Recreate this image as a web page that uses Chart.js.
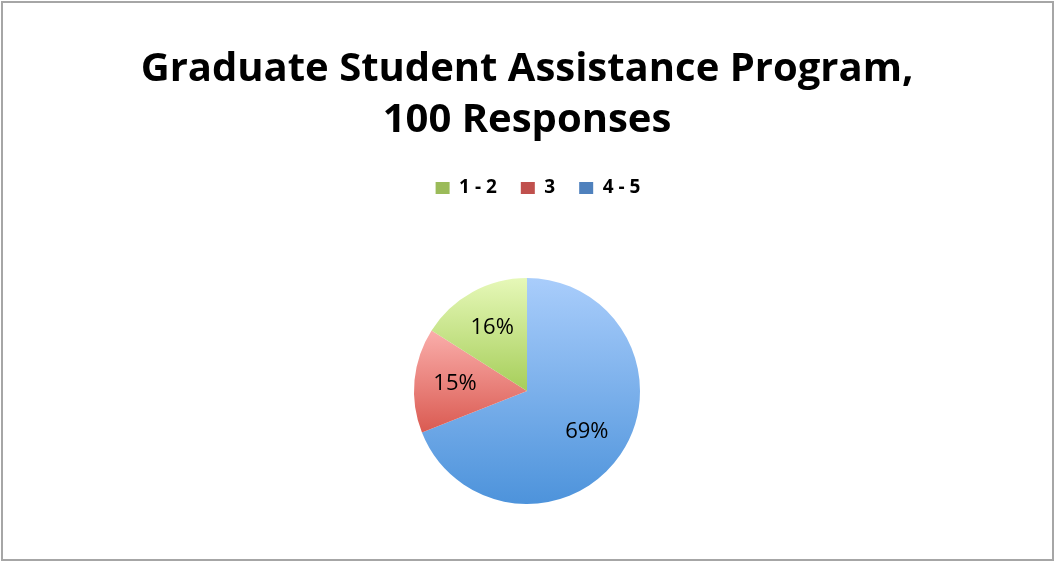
<!DOCTYPE html>
<html>
<head>
<meta charset="utf-8">
<script src="https://cdn.jsdelivr.net/npm/chart.js@4"></script>
<style>
  html, body { margin: 0; padding: 0; background: #fff; }
  #wrap { position: relative; width: 1054px; height: 561px; }
</style>
</head>
<body>
<div id="wrap"><canvas id="pieChart" width="1054" height="561"></canvas></div>
<script>
// Survey data, drawn clockwise from 12 o'clock
const labels = ['4 - 5', '3', '1 - 2'];
const responses = [69, 15, 16];
const titleLines = ['Graduate Student Assistance Program,', '100 Responses'];

// Legend swatches and slice gradients (top colour, bottom colour)
const swatches = ['#4f81bd', '#c0504d', '#9bbb59'];
const gradients = [
    ['#a9cdfb', '#4d93db'],
    ['#faaeab', '#da5a51'],
    ['#e6f8b8', '#a6ce5a']
];

// Vertical extent of a pie slice so each slice gets its own gradient
function sliceYRange(cy, r, a0, a1) {
    let ys = [cy, cy + r * Math.sin(a0), cy + r * Math.sin(a1)];
    [Math.PI / 2, -Math.PI / 2, 3 * Math.PI / 2].forEach(a => {
        if (a > a0 && a < a1) ys.push(cy + r * Math.sin(a));
    });
    return [Math.min(...ys), Math.max(...ys)];
}

function sliceFill(context) {
    const chart = context.chart;
    const area = chart.chartArea;
    const i = context.dataIndex;
    if (!area) return gradients[i][1];
    const total = responses.reduce((a, b) => a + b, 0);
    let start = -Math.PI / 2;
    for (let k = 0; k < i; k++) start += responses[k] / total * Math.PI * 2;
    const end = start + responses[i] / total * Math.PI * 2;
    const cy = (area.top + area.bottom) / 2;
    const r = Math.min(area.width, area.height) / 2;
    const [y0, y1] = sliceYRange(cy, r, start, end);
    const g = chart.ctx.createLinearGradient(0, y0, 0, y1);
    g.addColorStop(0, gradients[i][0]);
    g.addColorStop(1, gradients[i][1]);
    return g;
}

// White background and grey frame
const framePlugin = {
    id: 'frame',
    beforeDraw(chart) {
        const ctx = chart.ctx;
        ctx.save();
        ctx.fillStyle = '#ffffff';
        ctx.fillRect(0, 0, chart.width, chart.height);
        ctx.strokeStyle = '#a6a6a6';
        ctx.lineWidth = 2;
        ctx.strokeRect(2, 2, chart.width - 3, chart.height - 3);
        ctx.restore();
    }
};

// Extra room under the legend so the pie sits lower, legend nudged right
const legendGap = {
    id: 'legendGap',
    beforeInit(chart) {
        const fit = chart.legend.fit;
        chart.legend.fit = function() {
            fit.bind(chart.legend)();
            this.height += 70.5;
        };
    },
    afterLayout(chart) {
        chart.legend.left += 11;
        chart.legend.right += 11;
    }
};

// Percent labels inside each slice
const sliceLabels = {
    id: 'sliceLabels',
    afterDatasetsDraw(chart) {
        const ctx = chart.ctx;
        const meta = chart.getDatasetMeta(0);
        const total = responses.reduce((a, b) => a + b, 0);
        ctx.save();
        ctx.font = '22px "Open Sans"';
        ctx.fillStyle = '#000';
        ctx.textAlign = 'center';
        ctx.textBaseline = 'middle';
        meta.data.forEach((arc, i) => {
            const p = arc.getProps(['x', 'y', 'startAngle', 'endAngle', 'outerRadius'], true);
            const mid = (p.startAngle + p.endAngle) / 2;
            const d = p.outerRadius * 0.64;
            const pct = Math.round(responses[i] / total * 100) + '%';
            ctx.fillText(pct, p.x + Math.cos(mid) * d, p.y + Math.sin(mid) * d);
        });
        ctx.restore();
    }
};

new Chart(document.getElementById('pieChart'), {
    type: 'pie',
    data: {
        labels: labels,
        datasets: [{
            data: responses,
            backgroundColor: sliceFill,
            borderWidth: 0
        }]
    },
    options: {
        responsive: false,
        animation: false,
        layout: { padding: { bottom: 57 } },
        plugins: {
            title: {
                display: true,
                text: titleLines,
                color: '#000',
                font: { family: 'Open Sans', size: 40, weight: 'bold', lineHeight: 51 / 40 },
                padding: { top: 44, bottom: 8.5 }
            },
            legend: {
                position: 'top',
                reverse: true,
                labels: {
                    color: '#000',
                    boxWidth: 14,
                    boxHeight: 12,
                    padding: 24,
                    font: { family: 'Open Sans', size: 19, weight: 'bold' },
                    generateLabels(chart) {
                        return labels.map((text, i) => ({
                            text: text,
                            fillStyle: swatches[i],
                            strokeStyle: swatches[i],
                            lineWidth: 0,
                            index: i,
                            datasetIndex: 0
                        }));
                    }
                }
            },
            tooltip: { enabled: false }
        }
    },
    plugins: [framePlugin, legendGap, sliceLabels]
});
</script>
</body>
</html>
